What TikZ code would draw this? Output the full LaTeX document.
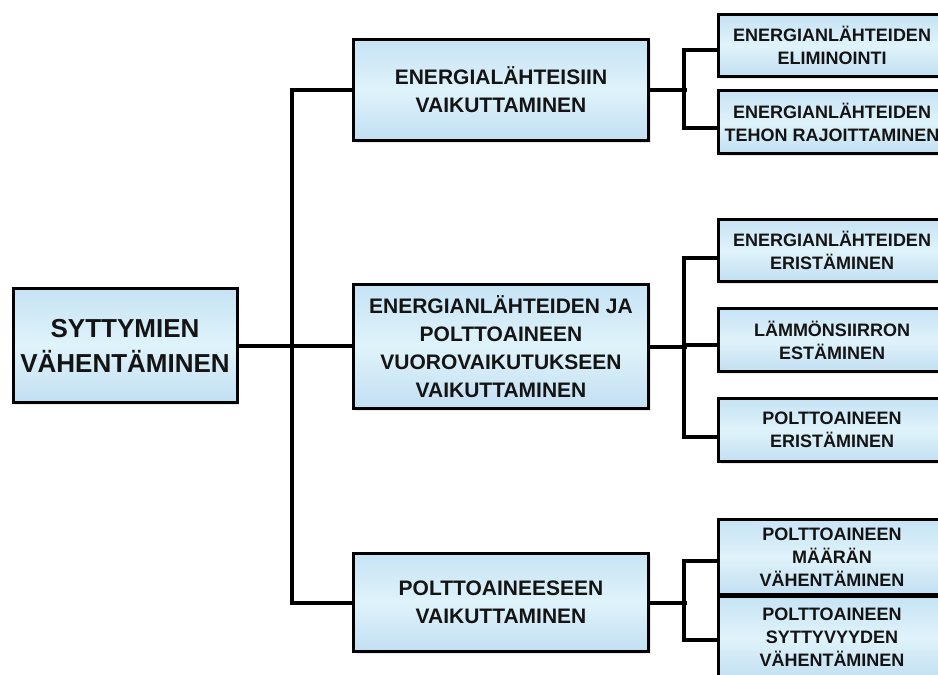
\documentclass[tikz,border=0pt]{standalone}
\usepackage{fontspec}
\setmainfont{Liberation Sans}
\usetikzlibrary{shadows}
\definecolor{boxtop}{HTML}{C6E3F5}
\definecolor{boxmid}{HTML}{DFF3FA}
\definecolor{boxbot}{HTML}{C2DFF3}
\definecolor{txt}{HTML}{141414}
\begin{document}
\begin{tikzpicture}[x=1pt,y=-1pt,
  box/.style={draw=black, line width=3pt, top color=boxtop, bottom color=boxbot, middle color=boxmid,
    align=center, text=txt, inner sep=0pt,
    drop shadow={opacity=0.18, shadow xshift=2pt, shadow yshift=-2pt, fill=gray}},
  rootbox/.style={box, font=\fontsize{26}{35}\selectfont\bfseries},
  midbox/.style={box, minimum width=295pt, font=\fontsize{21}{28}\selectfont\bfseries},
  leafbox/.style={box, minimum width=227pt, font=\fontsize{18}{23}\selectfont\bfseries},
  conn/.style={line width=4pt, line join=miter, draw=black}]
\useasboundingbox (0,0) rectangle (938,675);
\fill[white] (0,0) rectangle (938,675);
\clip (0,0) rectangle (938,675);

\node[rootbox, minimum width=224pt, minimum height=114pt] (root) at (125,345.5) {SYTTYMIEN\\VÄHENTÄMINEN};
\node[midbox, minimum height=101pt] (m1) at (501,90) {ENERGIALÄHTEISIIN\\VAIKUTTAMINEN};
\node[midbox, minimum height=124pt] (m2) at (501,346.5) {ENERGIANLÄHTEIDEN JA\\POLTTOAINEEN\\VUOROVAIKUTUKSEEN\\VAIKUTTAMINEN};
\node[midbox, minimum height=98pt] (m3) at (501,602.5) {POLTTOAINEESEEN\\VAIKUTTAMINEN};

\node[leafbox, minimum height=62pt] (l1) at (832,45.5) {ENERGIANLÄHTEIDEN\\ELIMINOINTI};
\node[leafbox, minimum height=63pt] (l2) at (832,122) {ENERGIANLÄHTEIDEN\\TEHON RAJOITTAMINEN};
\node[leafbox, minimum height=62pt] (l3) at (832,250.5) {ENERGIANLÄHTEIDEN\\ERISTÄMINEN};
\node[leafbox, minimum height=63pt] (l4) at (832,340) {LÄMMÖNSIIRRON\\ESTÄMINEN};
\node[leafbox, minimum height=63pt] (l5) at (832,430) {POLTTOAINEEN\\ERISTÄMINEN};
\node[leafbox, minimum height=75pt] (l6) at (832,557) {POLTTOAINEEN\\MÄÄRÄN\\VÄHENTÄMINEN};
\node[leafbox, minimum height=82pt] (l7) at (832,637.5) {POLTTOAINEEN\\SYTTYVYYDEN\\VÄHENTÄMINEN};

\coordinate (tr) at (292,345.5);
% left trunk
\draw[conn] (root.east) -- (root.east -| m2.west);
\draw[conn] (m1.west) -- (m1.west -| tr) -- (m3.west -| tr) -- (m3.west);

% group 1
\draw[conn] (m1.east) -- ++(36.5,0);
\draw[conn] ([yshift=-4.5pt]l1.west) -- ++(-33.5,0) |- ([yshift=-5.5pt]l2.west);
% group 2
\draw[conn] (m2.east) -- ++(36.5,0);
\draw[conn] ([yshift=-7pt]l3.west) -- ++(-33.5,0) |- ([yshift=-7pt]l5.west);
\draw[conn] ([yshift=-5pt]l4.west) -- ++(-33.5,0);
% group 3
\draw[conn] (m3.east) -- ++(36.5,0);
\draw[conn] ([yshift=-4pt]l6.west) -- ++(-33.5,0) |- ([yshift=-2.5pt]l7.west);
\end{tikzpicture}
\end{document}
